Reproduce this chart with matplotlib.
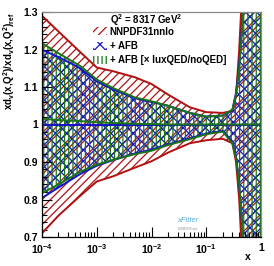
import matplotlib
matplotlib.use("Agg")
import matplotlib.pyplot as plt
from matplotlib.patches import Patch
from matplotlib.ticker import FixedLocator, LogLocator, NullFormatter, FuncFormatter
import numpy as np

plt.rcParams['font.family'] = ['Liberation Sans', 'DejaVu Sans']
plt.rcParams['font.weight'] = 'bold'
plt.rcParams['mathtext.fontset'] = 'custom'
plt.rcParams['mathtext.rm'] = 'Liberation Sans:bold'
plt.rcParams['mathtext.bf'] = 'Liberation Sans:bold'
plt.rcParams['mathtext.it'] = 'Liberation Sans:bold'
plt.rcParams['mathtext.default'] = 'bf'
plt.rcParams['hatch.linewidth'] = 0.9

# ---- data ----
x_pts = [1e-4, 2e-4, 5e-4, 1e-3, 2e-3, 5e-3, 1e-2, 2e-2, 5e-2, 0.1, 0.2,
         0.3, 0.35, 0.4, 0.45, 0.5, 0.6, 0.8, 1.0]

nnpdf_up = [1.29, 1.248, 1.193, 1.152, 1.142, 1.126, 1.108, 1.08, 1.046, 1.033, 1.031,
            1.036, 1.075, 1.2, 1.35, 1.8, 2.0, 2.0, 2.0]
nnpdf_lo = [0.71, 0.757, 0.81, 0.848, 0.862, 0.885, 0.902, 0.925, 0.95, 0.958, 0.962,
            0.95, 0.9, 0.8, 0.65, 0.3, 0.0, 0.0, 0.0]
nnpdf_c = [1.0, 1.0, 1.0, 1.0, 1.0, 1.0, 1.0, 1.0, 1.0, 1.0, 1.0,
           1.0, 1.0, 1.0, 1.0, 1.0, 1.0, 1.0, 1.0]

afb_up = [1.199, 1.18, 1.15, 1.115, 1.093, 1.07, 1.06, 1.05, 1.031, 1.021, 1.024,
          1.038, 1.085, 1.16, 1.26, 1.8, 2.0, 2.0, 2.0]
afb_lo = [0.804, 0.832, 0.868, 0.89, 0.905, 0.923, 0.933, 0.947, 0.963, 0.976, 0.983,
          0.955, 0.915, 0.84, 0.74, 0.3, 0.0, 0.0, 0.0]
afb_c = [1.0, 1.0, 1.0, 1.0, 1.0, 1.0, 1.0, 1.0, 1.0, 1.0, 1.0,
         1.0, 1.0, 1.0, 1.0, 1.0, 1.0, 1.0, 1.0]

lux_up = [1.217, 1.19, 1.156, 1.12, 1.097, 1.072, 1.062, 1.05, 1.031, 1.021, 1.024,
          1.04, 1.08, 1.15, 1.25, 1.8, 2.0, 2.0, 2.0]
lux_lo = [0.817, 0.84, 0.874, 0.893, 0.906, 0.921, 0.93, 0.945, 0.961, 0.974, 0.981,
          0.95, 0.91, 0.84, 0.74, 0.3, 0.0, 0.0, 0.0]
lux_c = [1.015, 1.012, 1.009, 1.006, 1.004, 1.002, 1.001, 1.0, 1.0, 1.0, 1.0,
         1.0, 1.0, 1.0, 1.0, 1.0, 1.0, 1.0, 1.0]

labels = ["NNPDF31nnlo", "+ AFB", "+ AFB [\u00d7 luxQED/noQED]"]
header = r"Q$^{2}$ = 8317 GeV$^{2}$"
ylabel = r"xd$_{v}$(x,Q$^{2}$)/xd$_{v}$(x,Q$^{2}$)$_{ref}$"

RED = '#b01212'
BLUE = '#1414c8'
GREEN = '#187518'

fig = plt.figure(figsize=(2.74, 2.66), dpi=100)
ax = fig.add_axes([42/274, 29/266, 219/274, 225/266])

bands = [
    (nnpdf_lo, nnpdf_up, nnpdf_c, RED, '////'),
    (afb_lo, afb_up, afb_c, BLUE, 'xxx'),
    (lux_lo, lux_up, lux_c, GREEN, '||||'),
]
for lo, up, c, col, h in bands:
    ax.fill_between(x_pts, lo, up, facecolor='none', edgecolor=col, hatch=h, linewidth=0)
for lo, up, c, col, h in bands:
    ax.plot(x_pts, lo, color=col, lw=1.4)
    ax.plot(x_pts, up, color=col, lw=1.4)
for lo, up, c, col, h in bands:
    ax.plot(x_pts, c, color=col, lw=1.4)

ax.set_xscale('log')
ax.set_xlim(1e-4, 1)
ax.set_ylim(0.7, 1.3)

ax.yaxis.set_major_locator(FixedLocator([0.7, 0.8, 0.9, 1.0, 1.1, 1.2, 1.3]))
ax.yaxis.set_minor_locator(FixedLocator(np.arange(0.7, 1.3001, 0.02)))
ax.yaxis.set_major_formatter(FuncFormatter(lambda v, p: "1" if abs(v-1) < 1e-6 else f"{v:.1f}"))
ax.xaxis.set_major_locator(FixedLocator([1e-4, 1e-3, 1e-2, 1e-1, 1]))
ax.xaxis.set_minor_locator(LogLocator(base=10, subs=np.arange(2, 10)))
ax.xaxis.set_minor_formatter(NullFormatter())

def xfmt(v, p):
    e = int(round(np.log10(v)))
    return "1" if e == 0 else r"10$^{%d}$" % e
ax.xaxis.set_major_formatter(FuncFormatter(xfmt))

ax.tick_params(which='both', direction='in', top=False, right=False, labelsize=7.5, colors='black')
ax.tick_params(which='major', length=7, width=0.8)
ax.tick_params(which='minor', length=3.5, width=0.8)
ax.tick_params(axis='x', pad=4)
ax.tick_params(axis='y', pad=3)
for s in ['top', 'right']:
    ax.spines[s].set_color('#8a8a8a')
for s in ax.spines.values():
    s.set_linewidth(0.9)

ax.set_ylabel(ylabel, fontsize=7, fontweight='bold', loc='top')
ax.yaxis.set_label_coords(-0.115, 1.0)
ax.text(1.0 - 13/219, -20/225, "x", transform=ax.transAxes, fontsize=7.5,
        fontweight='bold', ha='center', va='center')

handles = [Patch(facecolor='white', edgecolor=col, hatch=h, linewidth=0) for lo, up, c, col, h in bands]
leg = ax.legend(handles, labels, loc='upper left', bbox_to_anchor=(0.233, 0.935),
                frameon=False, fontsize=7, handlelength=1.43, handleheight=0.85,
                handletextpad=0.3, labelspacing=0.45, borderpad=0, borderaxespad=0)
for t in leg.get_texts():
    t.set_fontweight('bold')

ax.text((110-42)/219, (237-20)/225, header, transform=ax.transAxes, fontsize=7,
        fontweight='bold', ha='left', va='center')

ax.text((188-42)/219, (237-221)/225, "xFitter", transform=ax.transAxes, fontsize=5.5,
        style='italic', color='#5ab0e0', ha='center', va='center', fontweight='normal')
ax.text((188-42)/219, (237-229)/225, "LOGBOOK-xyz", transform=ax.transAxes, fontsize=2.2,
        color='#888888', ha='center', va='center', fontweight='normal')

fig.savefig("out.png", dpi=100)
